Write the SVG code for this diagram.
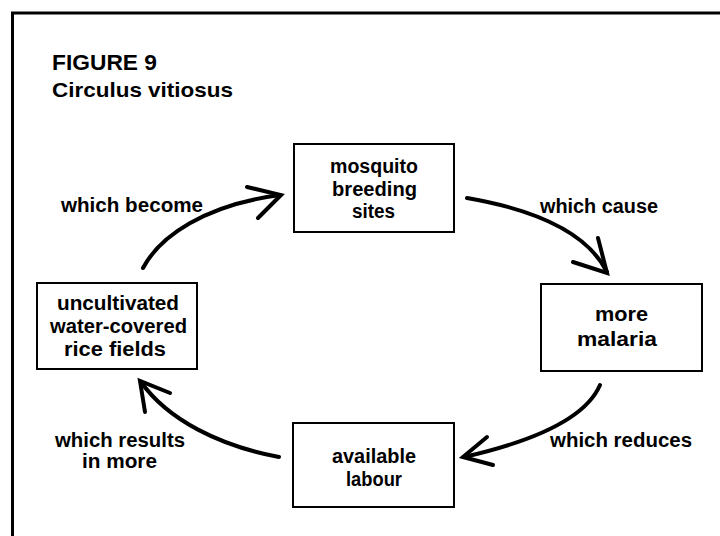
<svg xmlns="http://www.w3.org/2000/svg" width="720" height="536" viewBox="0 0 720 536">
  <style>
    .frame { fill: none; stroke: #000; stroke-width: 3; }
    .box { fill: #fff; stroke: #000; stroke-width: 2; }
    .t { font-family: "Liberation Sans", Arial, Helvetica, sans-serif; font-weight: bold; font-size: 20px; fill: #000; }
    .title { font-size: 22.5px; }
    .sub { font-size: 20.5px; }
    .lbl { font-size: 20px; }
    .curve { fill: none; stroke: #000; stroke-width: 4; stroke-linecap: round; }
    .head { fill: none; stroke: #000; stroke-width: 4; stroke-linecap: round; stroke-linejoin: miter; }
  </style>

  <rect width="720" height="536" fill="#fff"/>

  <!-- page frame: top rule and left rule -->
  <path class="frame" d="M12.5,536 L12.5,13 L720,13"/>

  <!-- heading -->
  <text class="t title" x="52" y="70" textLength="105" lengthAdjust="spacingAndGlyphs">FIGURE 9</text>
  <text class="t sub" x="52" y="97" textLength="181" lengthAdjust="spacingAndGlyphs">Circulus vitiosus</text>

  <!-- nodes -->
  <g id="node-breeding-sites">
    <rect class="box" x="294" y="144" width="160" height="88"/>
    <text class="t" x="330" y="173" textLength="88" lengthAdjust="spacingAndGlyphs">mosquito</text>
    <text class="t" x="332" y="196" textLength="85" lengthAdjust="spacingAndGlyphs">breeding</text>
    <text class="t" x="352" y="218" textLength="43" lengthAdjust="spacingAndGlyphs">sites</text>
  </g>

  <g id="node-malaria">
    <rect class="box" x="541" y="284" width="161" height="87"/>
    <text class="t" x="595" y="321" textLength="53" lengthAdjust="spacingAndGlyphs">more</text>
    <text class="t" x="577" y="346" textLength="80" lengthAdjust="spacingAndGlyphs">malaria</text>
  </g>

  <g id="node-labour">
    <rect class="box" x="293" y="423" width="161" height="84"/>
    <text class="t" x="332" y="463" textLength="84" lengthAdjust="spacingAndGlyphs">available</text>
    <text class="t" x="346" y="486" textLength="56" lengthAdjust="spacingAndGlyphs">labour</text>
  </g>

  <g id="node-rice-fields">
    <rect class="box" x="37" y="283" width="160" height="86"/>
    <text class="t" x="57" y="310" textLength="122" lengthAdjust="spacingAndGlyphs">uncultivated</text>
    <text class="t" x="50" y="333" textLength="137" lengthAdjust="spacingAndGlyphs">water-covered</text>
    <text class="t" x="64" y="356" textLength="102" lengthAdjust="spacingAndGlyphs">rice fields</text>
  </g>

  <!-- connectors -->
  <g id="connectors">
    <!-- rice fields -> breeding sites -->
    <path class="curve" d="M143,268 C160,236 205,205 280,195"/>
    <path class="head" d="M247,187 L281,195 L258,218"/>
    <!-- breeding sites -> malaria -->
    <path class="curve" d="M467,198 C525,208 585,228 607,272"/>
    <path class="head" d="M598,238 L607,273 L573,262"/>
    <!-- malaria -> labour -->
    <path class="curve" d="M600,385 C585,420 530,442 464,457"/>
    <path class="head" d="M487,437 L463,457 L493,465"/>
    <!-- labour -> rice fields -->
    <path class="curve" d="M279,457 C220,446 168,420 141,382"/>
    <path class="head" d="M170,393 L140,381 L145,412"/>
  </g>

  <!-- connector labels -->
  <g id="labels">
    <text class="t lbl" x="61" y="212" textLength="142" lengthAdjust="spacingAndGlyphs">which become</text>
    <text class="t lbl" x="540" y="213" textLength="118" lengthAdjust="spacingAndGlyphs">which cause</text>
    <text class="t lbl" x="550" y="447" textLength="142" lengthAdjust="spacingAndGlyphs">which reduces</text>
    <text class="t lbl" x="55" y="447" textLength="130" lengthAdjust="spacingAndGlyphs">which results</text>
    <text class="t lbl" x="82" y="468" textLength="75" lengthAdjust="spacingAndGlyphs">in more</text>
  </g>
</svg>
